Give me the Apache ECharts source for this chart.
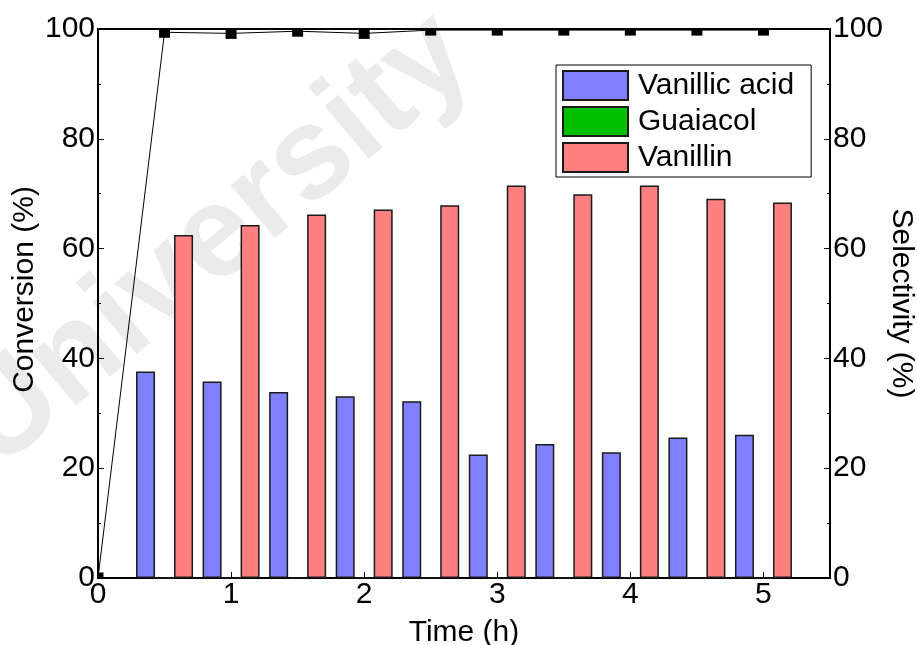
<!DOCTYPE html>
<html>
<head>
<meta charset="utf-8">
<script src="https://cdn.jsdelivr.net/npm/echarts@6/dist/echarts.min.js"></script>
<style>
  html, body { margin: 0; padding: 0; background: #fff; }
  #chart { width: 917px; height: 645px; }
</style>
</head>
<body>
<div id="chart"></div>
<script>
// Reaction time points (h) for the product bars
const times = [0.5, 1, 1.5, 2, 2.5, 3, 3.5, 4, 4.5, 5];
// Product selectivities (%)
const vanillicAcid = [37.6, 35.8, 33.9, 33.1, 32.2, 22.5, 24.4, 22.9, 25.6, 26.1];
const guaiacol = [0, 0, 0, 0, 0, 0, 0, 0, 0, 0];
const vanillin = [62.5, 64.3, 66.2, 67.1, 67.9, 71.5, 69.9, 71.5, 69.1, 68.4];
// Substrate conversion (%) over time
const convTimes = [0, 0.5, 1, 1.5, 2, 2.5, 3, 3.5, 4, 4.5, 5];
const conversion = [0, 99.4, 99.2, 99.6, 99.2, 99.8, 99.8, 99.8, 99.8, 99.8, 99.8];
// Axis ticks
const xTicks = [0, 1, 2, 3, 4, 5];
const yTicks = [0, 20, 40, 60, 80, 100];

const FONT = 'Liberation Sans, Arial, sans-serif';
const FS = 30;
const pairs = (xs, ys) => xs.map((x, i) => [x, ys[i]]);

const chart = echarts.init(document.getElementById('chart'), null, { renderer: 'canvas' });

const yAxisBase = {
  type: 'value',
  min: yTicks[0],
  max: yTicks[yTicks.length - 1],
  interval: yTicks[1] - yTicks[0],
  nameLocation: 'middle',
  nameMoveOverlap: false,
  axisLine: { show: true, lineStyle: { color: '#000', width: 2 } },
  axisTick: { show: true, inside: true, length: 6, lineStyle: { color: '#000', width: 1 } },
  minorTick: { show: true, splitNumber: 2, length: 3, lineStyle: { color: '#000', width: 1 } },
  axisLabel: { fontFamily: FONT, fontSize: FS, color: '#000', margin: 3 },
  splitLine: { show: false }
};

const barStyle = (color) => ({ color: color, borderColor: '#1a1a1a', borderWidth: 1.5 });

// Square markers clipped to the plotting area
const clippedSquare = (params, api) => {
  const p = api.coord([api.value(0), api.value(1)]);
  const s = 11;
  const cs = params.coordSys;
  const shape = echarts.graphic.clipRectByRect(
    { x: p[0] - s / 2, y: p[1] - s / 2, width: s, height: s },
    { x: cs.x, y: cs.y + 1, width: cs.width, height: cs.height - 1 }
  );
  return shape ? { type: 'rect', shape: shape, style: { fill: '#000' } } : null;
};

chart.setOption({
  backgroundColor: '#fff',
  animation: false,
  graphic: [{
    type: 'text',
    x: 16,
    y: 494,
    rotation: 0.7,
    z: -10,
    silent: true,
    style: {
      text: 'University',
      font: 'bold 130px Liberation Sans, Arial, sans-serif',
      fill: '#ebebeb',
      textAlign: 'left',
      textVerticalAlign: 'bottom'
    }
  }],
  grid: {
    left: 98, right: 87, top: 29, bottom: 67,
    outerBoundsMode: 'none',
    containLabel: false,
    show: true, borderColor: '#000', borderWidth: 2, backgroundColor: 'transparent'
  },
  legend: {
    orient: 'vertical',
    left: 556,
    top: 65,
    padding: [5, 17, 4, 6],
    itemGap: 5,
    itemWidth: 65,
    itemHeight: 29,
    icon: 'rect',
    borderColor: '#000',
    borderWidth: 1,
    borderRadius: 0,
    backgroundColor: '#fff',
    data: ['Vanillic acid', 'Guaiacol', 'Vanillin'],
    textStyle: { fontFamily: FONT, fontSize: FS, color: '#000', padding: [0, 0, 0, 5] }
  },
  xAxis: {
    type: 'value',
    min: xTicks[0],
    max: 5.5,
    interval: xTicks[1] - xTicks[0],
    name: 'Time (h)',
    nameLocation: 'middle',
    nameGap: 40,
    nameMoveOverlap: false,
    nameTextStyle: { fontFamily: FONT, fontSize: FS, color: '#000' },
    axisLine: { show: true, onZero: false, lineStyle: { color: '#000', width: 2 } },
    axisTick: { show: true, inside: true, length: 6, lineStyle: { color: '#000', width: 1 } },
    axisLabel: { fontFamily: FONT, fontSize: FS, color: '#000', margin: 2, showMaxLabel: false },
    splitLine: { show: false }
  },
  yAxis: [
    Object.assign({}, yAxisBase, {
      position: 'left', name: 'Conversion (%)', nameRotate: 90, nameGap: 58,
      nameTextStyle: { fontFamily: FONT, fontSize: FS, color: '#000', padding: [0, 0, 0, 28] }
    }),
    Object.assign({}, yAxisBase, {
      position: 'right', name: 'Selectivity (%)', nameRotate: -90, nameGap: 56,
      nameTextStyle: { fontFamily: FONT, fontSize: FS, color: '#000' }
    })
  ],
  series: [
    {
      name: 'Vanillic acid', type: 'bar', yAxisIndex: 1,
      barWidth: 19, barGap: '0%',
      itemStyle: barStyle('#8080ff'),
      data: pairs(times, vanillicAcid)
    },
    {
      name: 'Guaiacol', type: 'bar', yAxisIndex: 1,
      barWidth: 19, barGap: '0%',
      itemStyle: barStyle('#00c000'),
      data: pairs(times, guaiacol)
    },
    {
      name: 'Vanillin', type: 'bar', yAxisIndex: 1,
      barWidth: 19, barGap: '0%',
      itemStyle: barStyle('#ff8080'),
      data: pairs(times, vanillin)
    },
    {
      name: 'Conversion', type: 'line', yAxisIndex: 0,
      symbol: 'none',
      z: 4,
      lineStyle: { color: '#000', width: 1 },
      data: pairs(convTimes, conversion)
    },
    {
      name: 'Conversion markers', type: 'custom', yAxisIndex: 0,
      z: 5,
      renderItem: clippedSquare,
      data: pairs(convTimes, conversion)
    }
  ]
});
</script>
</body>
</html>
